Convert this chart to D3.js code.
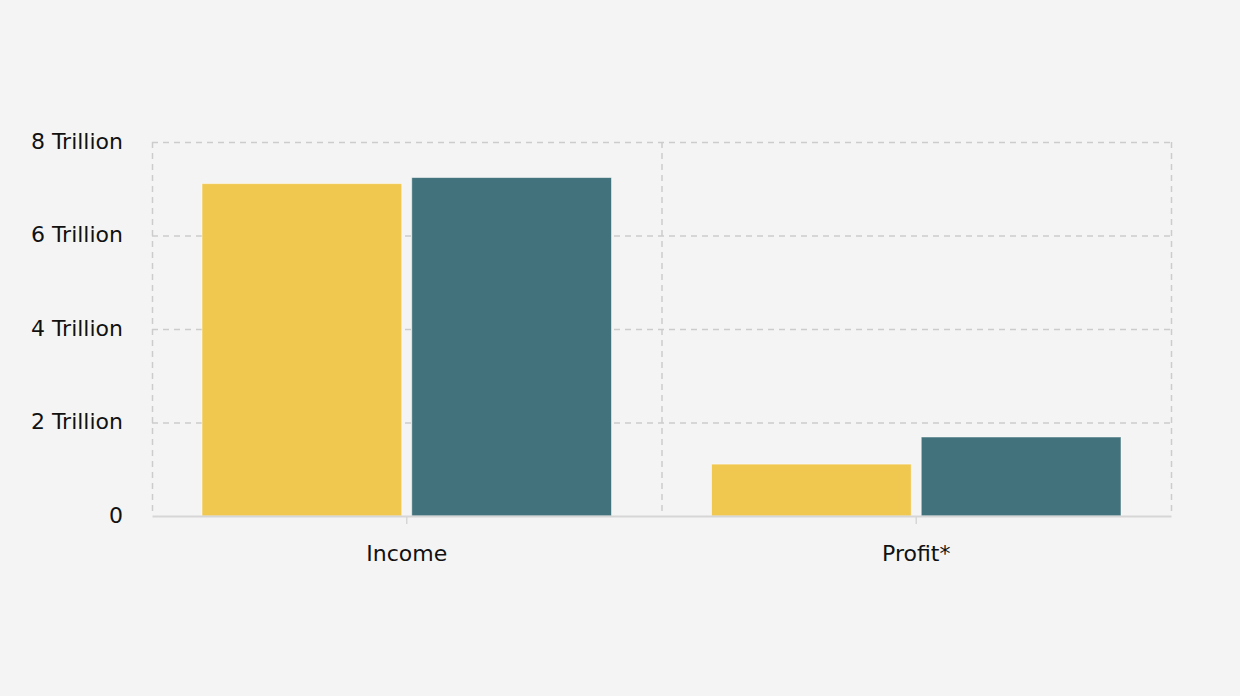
<!DOCTYPE html>
<html>
<head>
<meta charset="utf-8">
<script src="https://cdn.jsdelivr.net/npm/d3@7"></script>
<style>
  html, body { margin: 0; padding: 0; background: #f4f4f4; }
  svg { display: block; }
  text { font-family: "DejaVu Sans", Verdana, sans-serif; }
</style>
</head>
<body>
<svg id="chart" width="1240" height="696"></svg>
<script>
const categories = ["Income", "Profit*"];
const seriesNames = ["Series A", "Series B"];
const seriesA = [7.11e12, 1.11e12];
const seriesB = [7.24e12, 1.69e12];
const yTicks = [0, 2e12, 4e12, 6e12, 8e12];
const yTickLabels = ["0", "2 Trillion", "4 Trillion", "6 Trillion", "8 Trillion"];
const colors = ["#f0c850", "#42727c"];

const svg = d3.select("#chart");
const margin = { left: 152, right: 69, top: 142, bottom: 180 };
const W = 1240, H = 696;
const x0 = d3.scaleBand().domain(categories).range([margin.left, W - margin.right]).paddingInner(0).paddingOuter(0);
const x1 = d3.scaleBand().domain(seriesNames).range([50, x0.bandwidth() - 50]).paddingInner(10/210).paddingOuter(0);
const y = d3.scaleLinear().domain([0, 8e12]).range([H - margin.bottom, margin.top]);

const data = categories.map((c, i) => ({ cat: c, vals: [seriesA[i], seriesB[i]] }));

// horizontal grid
svg.append("g").selectAll("line").data(yTicks.slice(1)).join("line")
  .attr("x1", margin.left).attr("x2", W - margin.right)
  .attr("y1", d => y(d) + 0.5).attr("y2", d => y(d) + 0.5)
  .attr("stroke", "#cccccc").attr("stroke-width", 1.5).attr("stroke-dasharray", "6,5");

// vertical grid (category boundaries)
const bounds = [margin.left, margin.left + x0.bandwidth(), W - margin.right];
svg.append("g").selectAll("line").data(bounds).join("line")
  .attr("x1", d => d + 0.5).attr("x2", d => d + 0.5)
  .attr("y1", margin.top).attr("y2", y(0))
  .attr("stroke", "#cccccc").attr("stroke-width", 1.5).attr("stroke-dasharray", "6,5");

// bars
svg.append("g").selectAll("g").data(data).join("g")
  .attr("transform", d => `translate(${x0(d.cat)},0)`)
  .selectAll("rect").data(d => d.vals.map((v, j) => ({ v, s: seriesNames[j], j }))).join("rect")
  .attr("x", d => x1(d.s)).attr("width", x1.bandwidth())
  .attr("y", d => y(d.v)).attr("height", d => y(0) - y(d.v))
  .attr("fill", d => colors[d.j])
  .attr("stroke", "rgba(255,255,255,0.5)").attr("stroke-width", 1);

// x axis
const xAxis = d3.axisBottom(x0).tickSize(8).tickPadding(21).tickSizeOuter(0);
const gx = svg.append("g").attr("transform", `translate(0,${y(0)})`).call(xAxis);
gx.select(".domain").attr("stroke", "#d6d6d6").attr("stroke-width", 2);
gx.selectAll(".tick line").attr("stroke", "#d6d6d6").attr("stroke-width", 1.5);
gx.selectAll(".tick text").attr("font-size", 22).attr("fill", "#111")
  .attr("font-family", "'DejaVu Sans', Verdana, sans-serif");

// y axis
const yAxis = d3.axisLeft(y).tickValues(yTicks).tickFormat((d, i) => yTickLabels[i]).tickSize(0).tickPadding(29);
const gy = svg.append("g").attr("transform", `translate(${margin.left},0)`).call(yAxis);
gy.select(".domain").remove();
gy.selectAll(".tick text").attr("font-size", 22).attr("fill", "#111").attr("dy", "0.28em")
  .attr("font-family", "'DejaVu Sans', Verdana, sans-serif");
</script>
</body>
</html>
